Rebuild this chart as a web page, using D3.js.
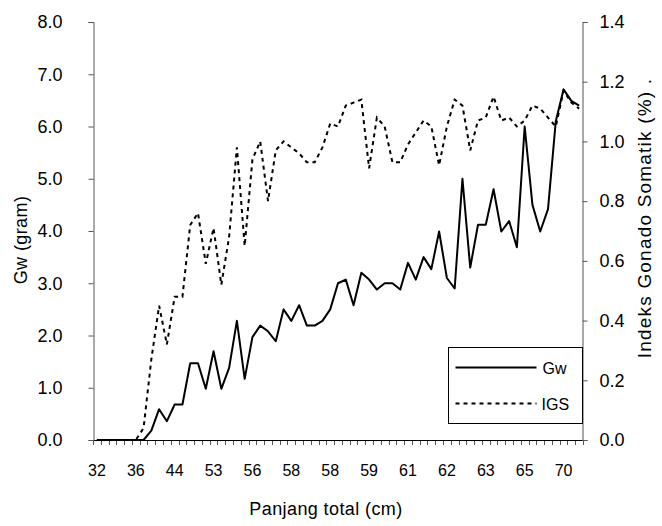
<!DOCTYPE html>
<html>
<head>
<meta charset="utf-8">
<script src="https://cdn.jsdelivr.net/npm/d3@7"></script>
<style>
  body { margin: 0; background: #fff; }
  svg { display: block; }
  text { font-family: "Liberation Sans", Arial, sans-serif; fill: #000; }
  .tick-label { font-size: 18px; }
  .x-label { font-size: 16px; }
  .legend-label { font-size: 16px; }
  .axis-title { font-size: 18px; letter-spacing: 0.4px; }
  .axis-title-right { font-size: 19px; letter-spacing: 1.2px; }
</style>
</head>
<body>
<div id="chart"></div>
<script>
// total length (cm) of each fish, one per category
const lengths = [
  32, 33, 34, 35, 35, 36, 38, 40, 41, 43,
  44, 46, 48, 50, 52, 53, 54, 55, 55, 56,
  56, 56, 57, 57, 57, 58, 58, 58, 58, 58,
  58, 58, 59, 59, 59, 59, 60, 60, 60, 61,
  61, 61, 61, 62, 62, 62, 62, 62, 63, 63,
  63, 63, 64, 64, 65, 65, 66, 67, 68, 69,
  70, 71, 72
];

// gonad weight (gram)
const gw = [
  0, 0, 0, 0, 0, 0, 0, 0.18, 0.59, 0.36,
  0.68, 0.68, 1.47, 1.47, 0.98, 1.70, 0.98, 1.38, 2.28, 1.17,
  1.97, 2.19, 2.08, 1.89, 2.50, 2.28, 2.58, 2.19, 2.19, 2.28,
  2.50, 3.00, 3.07, 2.58, 3.20, 3.07, 2.88, 3.00, 3.00, 2.88,
  3.39, 3.07, 3.50, 3.27, 3.99, 3.10, 2.90, 5.00, 3.30, 4.12,
  4.12, 4.80, 3.99, 4.19, 3.69, 6.00, 4.50, 3.99, 4.42, 6.10,
  6.71, 6.49, 6.40
];

// gonado somatic index (%)
const igs = [
  0, 0, 0, 0, 0, 0, 0.04, 0.27, 0.45, 0.32,
  0.48, 0.48, 0.72, 0.76, 0.59, 0.71, 0.52, 0.68, 0.98, 0.65,
  0.94, 1.00, 0.80, 0.97, 1.00, 0.98, 0.96, 0.93, 0.93, 0.98,
  1.06, 1.05, 1.12, 1.13, 1.14, 0.91, 1.08, 1.05, 0.93, 0.93,
  0.99, 1.03, 1.07, 1.05, 0.92, 1.05, 1.14, 1.12, 0.97, 1.07,
  1.08, 1.15, 1.07, 1.08, 1.05, 1.07, 1.12, 1.11, 1.08, 1.05,
  1.17, 1.13, 1.11
];

const gwTicks = [0, 1, 2, 3, 4, 5, 6, 7, 8];
const igsTicks = [0, 0.2, 0.4, 0.6, 0.8, 1.0, 1.2, 1.4];
const labelEvery = 5;

const width = 662, height = 526;
const margin = { top: 22, right: 79, bottom: 86, left: 93 };
const innerWidth = width - margin.left - margin.right;
const innerHeight = height - margin.top - margin.bottom;
const axisColor = "#555";

const svg = d3.select("#chart")
  .append("svg")
  .attr("width", width)
  .attr("height", height);

const innerChart = svg.append("g")
  .attr("transform", `translate(${margin.left}, ${margin.top})`);

const xScale = d3.scaleBand()
  .domain(d3.range(lengths.length))
  .range([0, innerWidth]);
const yLeft = d3.scaleLinear().domain([0, 8]).range([innerHeight, 0]);
const yRight = d3.scaleLinear().domain([0, 1.4]).range([innerHeight, 0]);

const cx = i => xScale(i) + xScale.bandwidth() / 2;
const fmt = d3.format(".1f");

// x axis: ticks at category boundaries, labels on every 5th category
const xg = innerChart.append("g")
  .attr("transform", `translate(0, ${innerHeight})`);
xg.selectAll(".xtick")
  .data(d3.range(lengths.length + 1))
  .join("line")
  .attr("class", "xtick")
  .attr("x1", i => Math.round(i * xScale.bandwidth()) + 0.5)
  .attr("x2", i => Math.round(i * xScale.bandwidth()) + 0.5)
  .attr("y1", 0).attr("y2", 5)
  .attr("stroke", axisColor);
xg.append("line")
  .attr("x1", 0).attr("x2", innerWidth)
  .attr("y1", 0.5).attr("y2", 0.5)
  .attr("stroke", "#000");
xg.selectAll(".x-label")
  .data(d3.range(0, lengths.length, labelEvery))
  .join("text")
  .attr("class", "x-label")
  .attr("x", i => cx(i))
  .attr("y", 36)
  .attr("text-anchor", "middle")
  .text(i => lengths[i]);

// left axis
const leftAxis = d3.axisLeft(yLeft)
  .tickValues(gwTicks)
  .tickSize(5)
  .tickPadding(26)
  .tickFormat(fmt);
const lg = innerChart.append("g")
  .attr("transform", "translate(0.5, 0)")
  .call(leftAxis);

// right axis
const rightAxis = d3.axisRight(yRight)
  .tickValues(igsTicks)
  .tickSize(5)
  .tickPadding(12)
  .tickFormat(fmt);
const rg = innerChart.append("g")
  .attr("transform", `translate(${innerWidth - 0.5}, 0)`)
  .call(rightAxis);

[lg, rg].forEach(g => {
  g.attr("font-size", null).attr("font-family", null);
  g.selectAll("path, line").attr("stroke", axisColor);
  g.selectAll("text").attr("class", "tick-label").attr("fill", null);
});

// lines
const gwLine = d3.line().x((d, i) => cx(i)).y(d => yLeft(d));
const igsLine = d3.line().x((d, i) => cx(i)).y(d => yRight(d));

innerChart.append("path")
  .datum(igs)
  .attr("d", igsLine)
  .attr("fill", "none")
  .attr("stroke", "#000")
  .attr("stroke-width", 2)
  .attr("stroke-dasharray", "4,4");

innerChart.append("path")
  .datum(gw)
  .attr("d", gwLine)
  .attr("fill", "none")
  .attr("stroke", "#000")
  .attr("stroke-width", 2)
  .attr("stroke-linejoin", "round");

// legend
const legend = svg.append("g").attr("transform", "translate(448.5, 347.5)");
legend.append("rect")
  .attr("width", 134).attr("height", 76)
  .attr("fill", "#fff").attr("stroke", "#000");
legend.append("line")
  .attr("x1", 7).attr("x2", 88).attr("y1", 20).attr("y2", 20)
  .attr("stroke", "#000").attr("stroke-width", 2);
legend.append("line")
  .attr("x1", 7).attr("x2", 88).attr("y1", 56).attr("y2", 56)
  .attr("stroke", "#000").attr("stroke-width", 2)
  .attr("stroke-dasharray", "4,4");
legend.append("text").attr("class", "legend-label")
  .attr("x", 94).attr("y", 26).text("Gw");
legend.append("text").attr("class", "legend-label")
  .attr("x", 93).attr("y", 62).text("IGS");

// axis titles
svg.append("text")
  .attr("class", "axis-title")
  .attr("text-anchor", "middle")
  .attr("transform", "translate(27, 240) rotate(-90)")
  .text("Gw (gram)");

svg.append("text")
  .attr("class", "axis-title")
  .attr("text-anchor", "middle")
  .attr("x", 326).attr("y", 515)
  .text("Panjang total (cm)");

svg.append("text")
  .attr("class", "axis-title-right")
  .attr("text-anchor", "middle")
  .attr("transform", "translate(651, 218) rotate(-90)")
  .text("Indeks Gonado Somatik (%) .");
</script>
</body>
</html>
